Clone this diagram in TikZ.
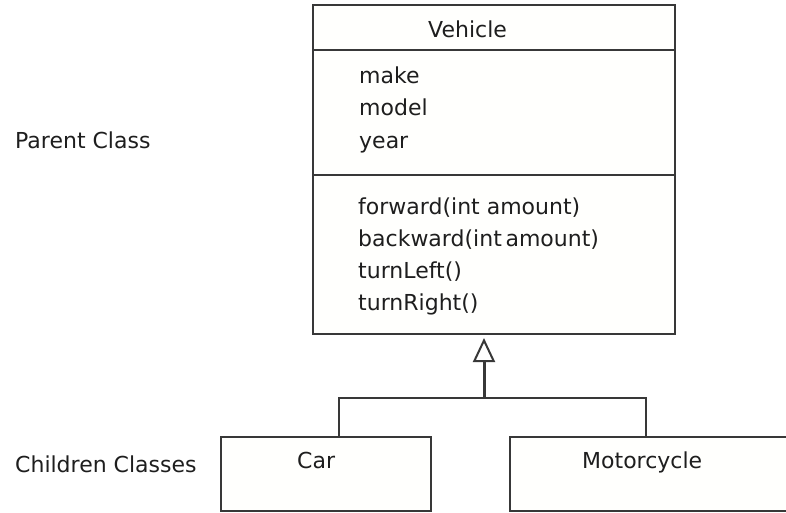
\documentclass[tikz,border=0pt]{standalone}
\usepackage{fontspec}
\usepackage{tikz}
\usetikzlibrary{positioning,arrows.meta}

\setmainfont{DejaVu Sans}
\newfontfamily\classfont{DejaVu Sans}

\definecolor{linegray}{HTML}{383838}
\definecolor{textgray}{HTML}{1E1E1E}
\definecolor{boxfill}{HTML}{FFFFFD}

\tikzset{
  classbox/.style={draw=linegray, line width=2pt, fill=boxfill, inner sep=0pt, outer sep=0pt, anchor=north west},
  classtext/.style={text=textgray, inner sep=0pt, anchor=base west, font=\classfont\fontsize{22}{32}\selectfont},
  link/.style={draw=linegray, line width=2pt},
  inherit/.style={draw=linegray, line width=3pt, shorten >=4pt,
    -{Triangle[open, length=24pt, width=22pt, line width=2pt, fill=white]}}
}

\begin{document}
\begin{tikzpicture}[x=1pt, y=-1pt]
        \clip (0,0) rectangle (786,512);

        % parent class, three compartments
        \node[classbox, minimum width=362pt, minimum height=45pt]  (vhead) at (313,5) {};
        \node[classbox, minimum width=362pt, minimum height=125pt, below=0pt of vhead] (vattr) {};
        \node[classbox, minimum width=362pt, minimum height=159pt, below=0pt of vattr] (vmeth) {};

        \node[classtext] (vname) at (428,37) {Vehicle};
        \foreach \txt [count=\i] in {make, model, year}
          \node[classtext] (attr\i) at (359, 50.5+32.5*\i) {\txt};
        \foreach \txt [count=\i] in {{forward(int amount)}, {backward(int\,amount)}, {turnLeft()}, {turnRight()}}
          \node[classtext] (meth\i) at (358, 182+32*\i) {\txt};

        % child classes
        \node[classbox, minimum width=210pt, minimum height=74pt] (car)  at (221,437) {};
        \node[classbox, minimum width=277pt, minimum height=74pt] (moto) at (510,437) {};
        \node[classtext] (carname)  at (297,468) {Car};
        \node[classtext] (motoname) at (582,468) {Motorcycle};

        % side labels
        \node[classtext] (parentlbl) at (15,148) {Parent Class};
        \node[classtext] (childlbl)  at (15,472) {Children Classes};

        % generalisation connector
        \coordinate (join) at (484,398);
        \draw[link] ([xshift=13pt]car.north) |- (join) -| ([xshift=-2.5pt]moto.north);
        \draw[inherit] (join) -- (join |- vmeth.south);
\end{tikzpicture}
\end{document}
